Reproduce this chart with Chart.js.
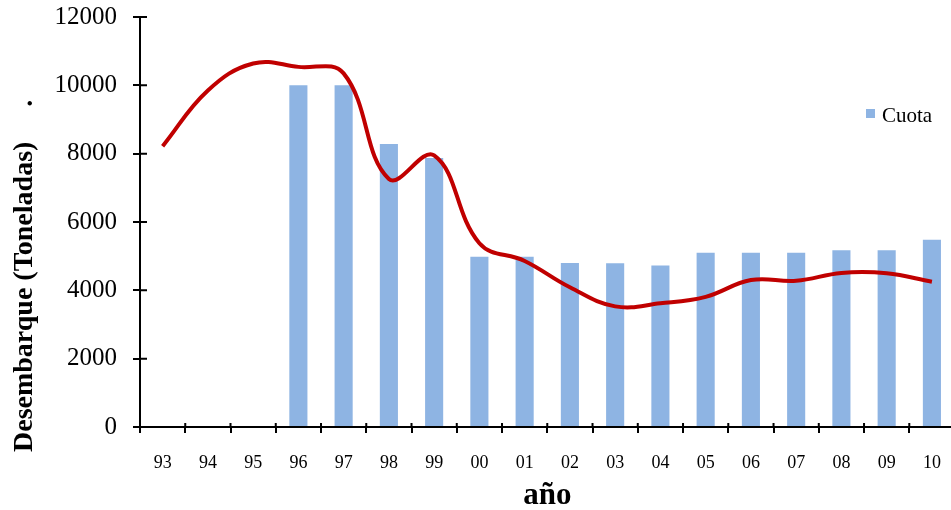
<!DOCTYPE html>
<html><head><meta charset="utf-8">
<script src="https://cdn.jsdelivr.net/npm/chart.js@4/dist/chart.umd.min.js"></script>
<style>html,body{margin:0;padding:0;overflow:hidden;background:#fff}#wrap{width:960px;height:510px}</style>
</head><body><div id="wrap"><canvas id="c" width="960" height="510"></canvas></div>
<script>
const years = ['93','94','95','96','97','98','99','00','01','02','03','04','05','06','07','08','09','10'];
const cuota = [null,null,null,10000,10000,8280,7870,4980,4980,4800,4790,4730,5100,5100,5100,5170,5170,5480];
const desembarque = [8220,9850,10640,10540,10350,7260,7950,5380,4860,4090,3530,3620,3810,4300,4280,4510,4500,4250];
const yTicks = [0,2000,4000,6000,8000,10000,12000];
const yTitle = 'Desembarque (Toneladas)\u00a0\u00a0\u00a0\u00a0\u00a0.';
const xTitle = 'año';
const legendLabel = 'Cuota';
const FAM = '"Liberation Serif","Times New Roman",serif';

const extras = {
  id: 'extras',
  afterDraw(chart) {
    const ctx = chart.ctx, xs = chart.scales.x, ys = chart.scales.y, a = chart.chartArea;
    ctx.save();
    ctx.strokeStyle = '#000'; ctx.lineWidth = 2;
    ctx.beginPath();
    ys.ticks.forEach(t => { const y = ys.getPixelForValue(t.value); ctx.moveTo(a.left, y); ctx.lineTo(a.left + 7, y); });
    const half = (xs.getPixelForValue(1) - xs.getPixelForValue(0)) / 2;
    for (let i = 0; i <= years.length; i++) { const x = xs.getPixelForValue(i) - half; ctx.moveTo(x, a.bottom); ctx.lineTo(x, a.bottom - 4); }
    ctx.stroke();
    // y title
    ctx.save();
    ctx.translate(32, 452); ctx.rotate(-Math.PI / 2);
    ctx.font = 'bold 28px ' + FAM; ctx.fillStyle = '#000'; ctx.textAlign = 'left'; ctx.textBaseline = 'alphabetic';
    ctx.fillText(yTitle, 0, 0);
    ctx.restore();
    // legend
    const ds = chart.data.datasets.find(d => d.label === legendLabel);
    ctx.fillStyle = ds.backgroundColor; ctx.fillRect(866, 109, 9, 9);
    ctx.font = '21px ' + FAM; ctx.fillStyle = '#000'; ctx.textAlign = 'left'; ctx.textBaseline = 'alphabetic';
    ctx.fillText(ds.label, 882, 122);
    ctx.restore();
  }
};

new Chart(document.getElementById('c'), {
  type: 'bar',
  data: {
    labels: years,
    datasets: [
      { type: 'line', label: 'Desembarque', data: desembarque, borderColor: '#C00000', borderWidth: 4, pointRadius: 0, tension: 0.4, fill: false, order: 0 },
      { type: 'bar', label: legendLabel, data: cuota, backgroundColor: '#8EB4E3', barPercentage: 0.4, categoryPercentage: 1, order: 1 }
    ]
  },
  options: {
    responsive: false, animation: false, devicePixelRatio: 1,
    layout: { padding: { top: 17, right: 3, left: 0, bottom: 0 } },
    plugins: { legend: { display: false }, tooltip: { enabled: false } },
    scales: {
      x: {
        grid: { drawOnChartArea: false, tickLength: 6, color: '#000', lineWidth: 2, offset: true },
        border: { color: '#000', width: 2 },
        ticks: { color: '#000', font: { family: FAM, size: 18 }, padding: 19, maxRotation: 0, autoSkip: false },
        title: { display: true, text: xTitle, color: '#000', font: { family: FAM, size: 31, weight: 'bold', lineHeight: 0.9 }, padding: 0 },
        afterFit(s) { s.height = 83; }
      },
      y: {
        min: 0, max: 12000,
        afterBuildTicks(s) { s.ticks = yTicks.map(v => ({ value: v })); },
        grid: { drawOnChartArea: false, tickLength: 7, color: '#000', lineWidth: 2 },
        border: { color: '#000', width: 2 },
        ticks: { color: '#000', font: { family: FAM, size: 25 }, padding: 16, callback: v => String(v) },
        afterFit(s) { s.width = 140; s.paddingTop = 0; s.paddingBottom = 0; }
      }
    }
  },
  plugins: [extras]
});
</script></body></html>
